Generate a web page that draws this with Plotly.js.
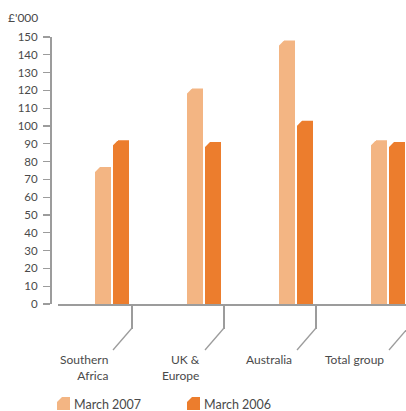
<!DOCTYPE html>
<html>
<head>
<meta charset="utf-8">
<script src="https://cdn.plot.ly/plotly-3.0.1.min.js"></script>
<style>html,body{margin:0;padding:0;background:#fff;}#chart{width:406px;height:411px;}</style>
</head>
<body>
<div id="chart"></div>
<script>
// ---- data ----
const categories = ['Southern<br>Africa', 'UK &<br>Europe', 'Australia', 'Total group'];
const march2007 = [77, 121, 148, 92];
const march2006 = [92, 91, 103, 91];
const seriesNames = ['March 2007', 'March 2006'];
const yTicks = [0,10,20,30,40,50,60,70,80,90,100,110,120,130,140,150];

// ---- styles ----
const lightC = '#F3B583';
const darkC = '#EC7D2D';
const axisC = '#9c9c9c';
const textC = '#4a4a4a';
const FONT = 'Lato, "Open Sans", sans-serif';

const W = 406, H = 411;
const mL = 50, mR = 0, mT = 37, mB = 107;
const plotW = W - mL - mR, plotH = H - mT - mB;
const pxPerUnitX = 92;          // pixels per category
const pxPerUnitY = plotH / 150; // pixels per £'000
const xStartPx = 58;            // x axis starts slightly right of y axis
const x0 = -(112 - xStartPx) / pxPerUnitX;
const x1 = x0 + (W - xStartPx) / pxPerUnitX;

const idx = categories.map((c, i) => i);
const barW = 16 / pxPerUnitX;
const offL = -17 / pxPerUnitX;
const offD = 1 / pxPerUnitX;
const tickOff = 20 / pxPerUnitX;

const traces = [
  {type:'bar', x: idx, y: march2007, name: seriesNames[0], marker:{color: lightC}, width: barW, offset: offL, hoverinfo:'y'},
  {type:'bar', x: idx, y: march2006, name: seriesNames[1], marker:{color: darkC}, width: barW, offset: offD, hoverinfo:'y'}
];

const shapes = [];
const annotations = [];
const pxToPaperX = px => (px - mL) / plotW;
const pxToPaperY = py => (mT + plotH - py) / plotH;

// chamfer the top-left corner of each bar
const cw = 5 / pxPerUnitX, ch = 6 / pxPerUnitY;
[[march2007, offL], [march2006, offD]].forEach(([vals, off]) => {
  vals.forEach((v, i) => {
    const a = i + off;
    shapes.push({type:'path', xref:'x', yref:'y', layer:'above',
      path:`M ${a - 0.01} ${v + 0.5} L ${a + cw} ${v + 0.5} L ${a + cw} ${v} L ${a - 0.01} ${v - ch} Z`,
      fillcolor:'#ffffff', line:{width:0}});
  });
});

// leader lines and category labels
idx.forEach(i => {
  const t = i + tickOff;
  shapes.push({type:'line', xref:'x', yref:'paper',
    x0: t, y0: pxToPaperY(328), x1: t - 19 / pxPerUnitX, y1: pxToPaperY(350),
    line:{color: axisC, width: 1.3}});
  annotations.push({xref:'x', yref:'paper', x: t - 22 / pxPerUnitX, y: pxToPaperY(350),
    xanchor:'right', yanchor:'top', align:'right', showarrow:false,
    text: categories[i], font:{family: FONT, size: 12, color: textC}});
});

// custom legend
const legendItems = [[57, lightC, seriesNames[0]], [187, darkC, seriesNames[1]]];
legendItems.forEach(([px, col, name]) => {
  const xa = pxToPaperX(px), xb = pxToPaperX(px + 13), xc = pxToPaperX(px + 5);
  const yt = pxToPaperY(397), yb = pxToPaperY(410), yc = pxToPaperY(402);
  shapes.push({type:'path', xref:'paper', yref:'paper',
    path:`M ${xa} ${yb} L ${xb} ${yb} L ${xb} ${yt} L ${xc} ${yt} L ${xa} ${yc} Z`,
    fillcolor: col, line:{width:0}});
  annotations.push({xref:'paper', yref:'paper', x: pxToPaperX(px + 15), y: pxToPaperY(404),
    xanchor:'left', yanchor:'middle', showarrow:false, text: name,
    font:{family: FONT, size: 12.5, color: textC}});
});

// unit label
annotations.push({xref:'paper', yref:'paper', x: pxToPaperX(6), y: pxToPaperY(17),
  xanchor:'left', yanchor:'middle', showarrow:false, text:"£'000",
  font:{family: FONT, size: 12, color: textC}});

const layout = {
  width: W, height: H,
  margin:{l: mL, r: mR, t: mT, b: mB, pad: 0},
  paper_bgcolor:'#ffffff', plot_bgcolor:'#ffffff',
  showlegend:false,
  barmode:'group',
  xaxis:{domain:[(xStartPx - mL) / plotW, 1], range:[x0, x1], showgrid:false, zeroline:false,
    showline:true, linecolor: axisC, linewidth: 1.5,
    ticks:'outside', tickvals: idx.map(i => i + tickOff), ticklen: 23, tickcolor: axisC, tickwidth: 1.3,
    showticklabels:false, fixedrange:true},
  yaxis:{anchor:'free', position:0, range:[0,150], tickvals: yTicks, showgrid:false, zeroline:false,
    showline:true, linecolor: axisC, linewidth: 1.5,
    ticks:'outside', ticklen: 7, tickcolor: axisC, tickwidth: 1.2, ticklabelstandoff: 3,
    tickfont:{family: FONT, size: 11.5, color: textC}, fixedrange:true},
  shapes: shapes,
  annotations: annotations,
  font:{family: FONT}
};

Plotly.newPlot('chart', traces, layout, {displayModeBar:false, staticPlot:true});
</script>
</body>
</html>
